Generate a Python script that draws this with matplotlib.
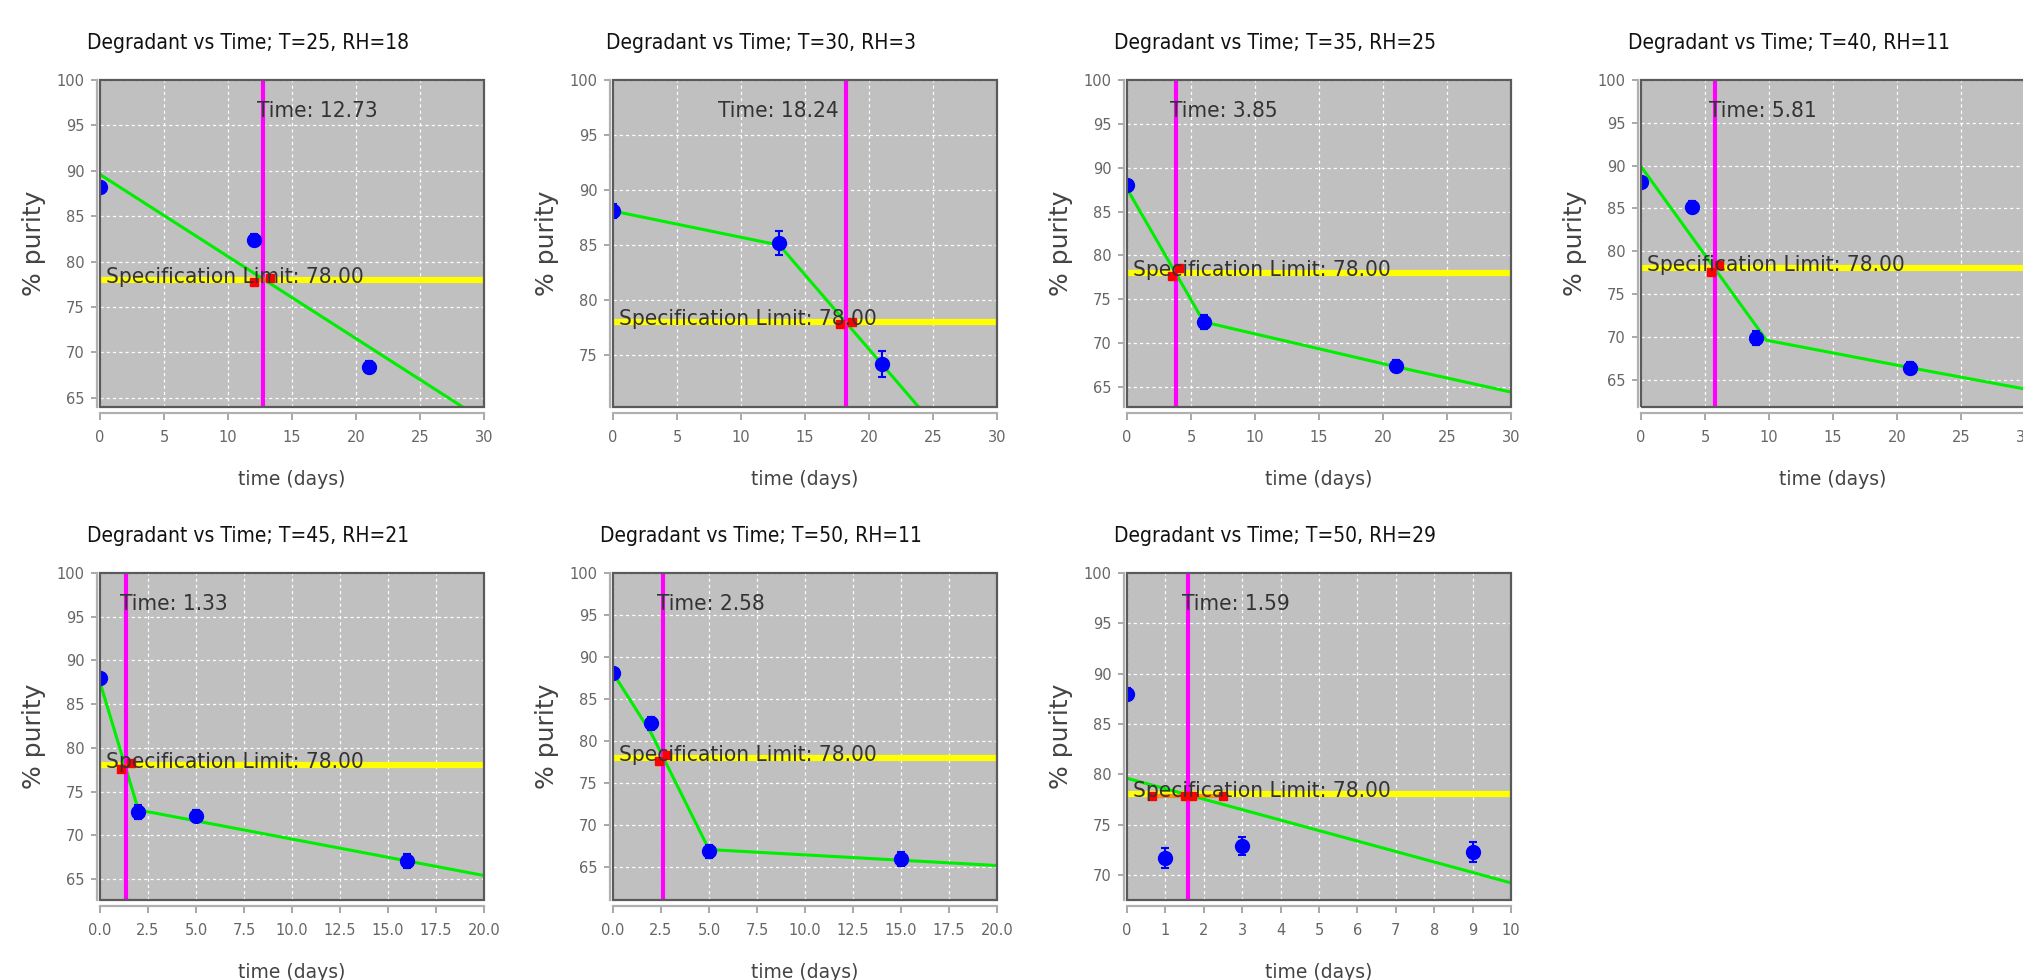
import matplotlib
matplotlib.use('Agg')
import matplotlib.pyplot as plt
import matplotlib.font_manager as fm
from matplotlib.ticker import MultipleLocator, FormatStrFormatter
from matplotlib.patches import Rectangle
from matplotlib.transforms import ScaledTranslation, blended_transform_factory

# ---------------- data ----------------
temperature = [25, 30, 35, 40, 45, 50, 50]
humidity = [18, 3, 25, 11, 21, 11, 29]

time_points = [
    [0, 12, 21],
    [0, 13, 21],
    [0, 6, 21],
    [0, 4, 9, 21],
    [0, 2, 5, 16],
    [0, 2, 5, 15],
    [0, 1, 3, 9],
]
purity = [
    [88.2, 82.4, 68.4],
    [88.1, 85.2, 74.2],
    [88.0, 72.4, 67.4],
    [88.1, 85.2, 69.9, 66.4],
    [88.0, 72.7, 72.2, 67.1],
    [88.1, 82.1, 66.9, 66.0],
    [88.0, 71.7, 72.9, 72.3],
]
purity_err = [
    [0.6, 0.7, 0.7],
    [0.6, 1.1, 1.2],
    [0.6, 0.8, 0.7],
    [0.6, 0.7, 0.8, 0.7],
    [0.6, 0.8, 0.7, 0.8],
    [0.6, 0.8, 0.8, 0.8],
    [0.6, 1.0, 0.9, 1.0],
]
fit_time = [
    [0, 30],
    [0, 13, 21, 30],
    [0, 6, 21, 30],
    [0, 9.8, 21, 30],
    [0, 2, 20],
    [0, 2, 5, 20],
    [0, 10],
]
fit_purity = [
    [89.6, 62.5],
    [88.1, 85.0, 74.2, 62.0],
    [87.6, 72.4, 67.3, 64.4],
    [89.9, 69.6, 66.4, 63.9],
    [87.5, 72.9, 65.4],
    [88.1, 80.9, 67.1, 65.2],
    [79.6, 69.2],
]
ci_time = [
    [12.0, 13.3],
    [17.7, 18.7],
    [3.5, 4.1],
    [5.5, 6.1],
    [1.1, 1.6],
    [2.4, 2.8],
    [0.65, 1.5, 1.7, 2.5],
]
ci_purity = [
    [77.8, 78.2],
    [77.8, 78.0],
    [77.6, 78.6],
    [77.6, 78.4],
    [77.6, 78.3],
    [77.6, 78.3],
    [77.8, 77.8, 77.8, 77.8],
]
shelf_life = [12.73, 18.24, 3.85, 5.81, 1.33, 2.58, 1.59]
spec_limit = 78.0
x_max = [30, 30, 30, 30, 20, 20, 10]
x_step = [5, 5, 5, 5, 2.5, 2.5, 1]
y_min = [64.0, 70.3, 62.7, 61.8, 62.6, 61.1, 67.5]
y_max = 100
time_label_side = ['left', 'right', 'left', 'left', 'left', 'left', 'left']

# ---------------- fonts ----------------
def find_narrow():
    ttf = fm.fontManager.ttflist
    def ok(f):
        return f.style == 'normal' and (f.weight in (400, 'normal', 'regular', 'book'))
    for f in ttf:
        if f.name == 'Liberation Sans Narrow' and ok(f):
            return f.fname, 1.0
    for fam in ['DejaVu Sans', 'Noto Sans', 'Open Sans', 'Roboto', 'Lato', 'Inter']:
        for f in ttf:
            if f.name == fam and ok(f) and f.stretch in ('condensed', 'semi-condensed'):
                return f.fname, 0.81
    for f in ttf:
        n = f.name.lower()
        if ('narrow' in n or 'condensed' in n) and ok(f) and 'mono' not in n and 'serif' not in n:
            return f.fname, 0.85
    return None, 0.74


narrow_path, K = find_narrow()


def nfont(size):
    if narrow_path:
        return fm.FontProperties(fname=narrow_path, size=size * K)
    return fm.FontProperties(family='DejaVu Sans', size=size * K)


WIDE = 'DejaVu Sans'

DPI = 100
W, H = 2024, 980
fig = plt.figure(figsize=(W / DPI, H / DPI), dpi=DPI)

col_left = [100, 613, 1127, 1641]
row_top = [80, 573]
ax_w, ax_h = 384, 327


def off(dx, dy):
    return ScaledTranslation(dx / DPI, dy / DPI, fig.dpi_scale_trans)


tick_fp = nfont(14.5)

for i in range(7):
    r, c = divmod(i, 4)
    L = col_left[c]
    T = row_top[r]
    ax = fig.add_axes([L / W, 1 - (T + ax_h) / H, ax_w / W, ax_h / H])
    ax.set_facecolor('#c0c0c0')
    ax.set_xlim(0, x_max[i])
    ax.set_ylim(y_min[i], y_max)
    ax.xaxis.set_major_locator(MultipleLocator(x_step[i]))
    if x_step[i] == 2.5:
        ax.xaxis.set_major_formatter(FormatStrFormatter('%.1f'))
    ax.yaxis.set_major_locator(MultipleLocator(5))

    for s in ['top', 'right']:
        ax.spines[s].set_visible(False)
    ax.spines['left'].set_position(('outward', 3 * 72 / DPI))
    ax.spines['bottom'].set_position(('outward', 6 * 72 / DPI))
    for s in ['left', 'bottom']:
        ax.spines[s].set_color('#b0b0b0')
        ax.spines[s].set_linewidth(1.6)
    ax.tick_params(axis='both', direction='out', colors='#999999', width=1.2,
                   labelcolor='#666666')
    ax.tick_params(axis='x', length=5, pad=7)
    ax.tick_params(axis='y', length=4, pad=5)
    for lab in ax.get_xticklabels() + ax.get_yticklabels():
        lab.set_fontproperties(tick_fp)

    ax.grid(True, color='white', linestyle=(0, (2.5, 2.5)), linewidth=0.9)
    ax.set_axisbelow(True)

    # frame of the plot area
    ax.add_patch(Rectangle((0, 0), 1, 1, transform=ax.transAxes, fill=False,
                           edgecolor='#5a5a5a', linewidth=1.6, clip_on=False, zorder=10))

    # specification limit
    ax.axhline(spec_limit, color='#ffff00', linewidth=4.5, zorder=2)
    # fitted curve
    ax.plot(fit_time[i], fit_purity[i], color='#00ee00', linewidth=2.2, zorder=3)
    # shelf-life marker
    ax.axvline(shelf_life[i], color='#ff00ff', linewidth=3, zorder=4)
    # measurements
    ax.errorbar(time_points[i], purity[i], yerr=purity_err[i], fmt='o', color='#0000ff',
                markersize=10, elinewidth=1.5, capsize=3, capthick=1.5, zorder=5)
    # confidence points
    ax.plot(ci_time[i], ci_purity[i], color='#ff6a00', linewidth=3, alpha=0.7, zorder=5)
    ax.plot(ci_time[i], ci_purity[i], 's', color='#ff0000', markersize=6,
            linestyle='none', zorder=6)

    # labels
    side = time_label_side[i]
    dx = -6 if side == 'left' else -8
    bt = blended_transform_factory(ax.transData, ax.transAxes)
    ax.text(shelf_life[i], 1, f'Time: {shelf_life[i]:.2f}', transform=bt + off(dx, -37),
            ha=side, va='baseline', fontproperties=nfont(20), color='#333333', zorder=8)
    ax.text(0, spec_limit, f'Specification Limit: {spec_limit:.2f}',
            transform=ax.transData + off(6, -3), ha='left', va='baseline',
            fontproperties=nfont(20), color='#333333', zorder=8)

    ax.text(0.385, 1, f'Degradant vs Time; T={temperature[i]}, RH={humidity[i]}',
            transform=ax.transAxes + off(0, 31), ha='center', va='baseline',
            fontproperties=nfont(18.5), color='#111111')
    ax.text(0, 0.5, '% purity', transform=ax.transAxes + off(-66, 0), rotation=90,
            ha='center', va='center', fontsize=18, family=WIDE, color='#444444')
    ax.text(0.5, 0, 'time (days)', transform=ax.transAxes + off(0, -78), ha='center',
            va='baseline', fontsize=13.5, family=WIDE, color='#444444')

fig.savefig('out.png', dpi=DPI, facecolor='white')
